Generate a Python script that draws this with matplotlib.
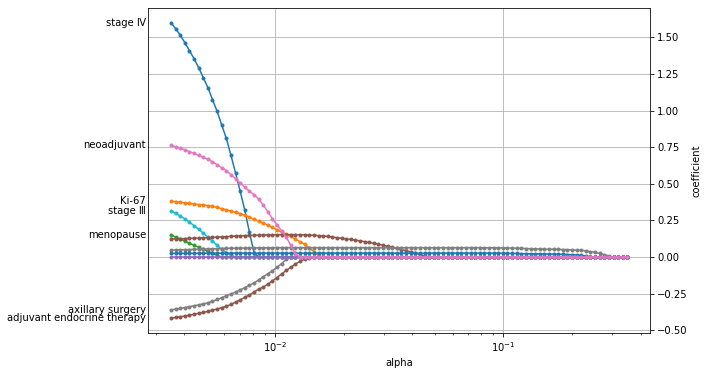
"""Lasso-type coefficient path: penalised Cox model, coefficient vs alpha."""
import numpy as np
import matplotlib.pyplot as plt

# alpha grid (as built by the penalised Cox fit): 100 log-spaced values
ALPHA_MAX = 0.35
ALPHA_MIN_RATIO = 0.01
N_ALPHAS = 100
alphas = ALPHA_MAX * ALPHA_MIN_RATIO ** (np.arange(N_ALPHAS)[::-1] / (N_ALPHAS - 1))

# coefficients, listed from the smallest alpha upward; a feature is exactly 0
# once it has left the model, so trailing zeros are left out
STAGE_IV = [1.600, 1.559, 1.515, 1.464, 1.409, 1.354, 1.293, 1.225, 1.157, 1.075,
            0.995, 0.902, 0.810, 0.695, 0.575, 0.450, 0.320, 0.172, 0.030]
NEOADJUVANT = [0.763, 0.753, 0.743, 0.732, 0.720, 0.707, 0.694, 0.680, 0.668, 0.650,
               0.630, 0.610, 0.590, 0.563, 0.535, 0.505, 0.477, 0.450, 0.425, 0.395,
               0.355, 0.310, 0.262, 0.220, 0.178, 0.135, 0.080, 0.020]
KI67 = [0.382, 0.378, 0.374, 0.370, 0.366, 0.362, 0.358, 0.355, 0.351, 0.345,
        0.338, 0.331, 0.322, 0.313, 0.304, 0.296, 0.285, 0.272, 0.258, 0.246,
        0.232, 0.217, 0.202, 0.186, 0.170, 0.155, 0.140, 0.122, 0.104, 0.087,
        0.062, 0.037, 0.008]
STAGE_III = [0.314, 0.297, 0.280, 0.260, 0.238, 0.214, 0.189, 0.163, 0.135, 0.108,
             0.080, 0.052, 0.030, 0.012]
MENOPAUSE = [0.150, 0.136, 0.122, 0.108, 0.094, 0.080, 0.066, 0.052, 0.038, 0.024,
             0.010]
AXILLARY = [-0.361, -0.356, -0.351, -0.345, -0.339, -0.333, -0.327, -0.320, -0.313, -0.302,
            -0.290, -0.278, -0.265, -0.252, -0.240, -0.225, -0.209, -0.193, -0.177, -0.157,
            -0.135, -0.115, -0.094, -0.070, -0.045, -0.015]
ENDOCRINE = [-0.418, -0.413, -0.408, -0.403, -0.397, -0.391, -0.385, -0.378, -0.371, -0.363,
             -0.355, -0.346, -0.336, -0.324, -0.308, -0.293, -0.276, -0.259, -0.240, -0.220,
             -0.205, -0.186, -0.163, -0.140, -0.116, -0.092, -0.070, -0.048, -0.030, -0.015,
             -0.008]
NODES = [0.123, 0.124, 0.125, 0.126, 0.127, 0.128, 0.129, 0.131, 0.133, 0.134,
         0.136, 0.138, 0.139, 0.141, 0.143, 0.145, 0.146, 0.147, 0.148, 0.149,
         0.150, 0.151, 0.152, 0.152, 0.153, 0.153, 0.153, 0.153, 0.152, 0.151,
         0.150, 0.148, 0.146, 0.143, 0.140, 0.136, 0.132, 0.128, 0.124, 0.120,
         0.115, 0.110, 0.105, 0.099, 0.093, 0.087, 0.080, 0.073, 0.066, 0.059,
         0.051, 0.043, 0.035, 0.026, 0.017, 0.007]
GRADE = [0.047, 0.048, 0.049, 0.050, 0.051, 0.052, 0.053, 0.054, 0.055, 0.056,
         0.057, 0.058, 0.059, 0.060, 0.060, 0.061, 0.061, 0.062, 0.062, 0.063,
         0.063, 0.063, 0.063, 0.064, 0.064, 0.064, 0.064, 0.064, 0.064, 0.064,
         0.064, 0.064, 0.064, 0.064, 0.064, 0.064, 0.064, 0.064, 0.064, 0.064,
         0.064, 0.064, 0.064, 0.064, 0.064, 0.064, 0.064, 0.064, 0.064, 0.064,
         0.064, 0.064, 0.064, 0.064, 0.064, 0.064, 0.064, 0.064, 0.064, 0.064,
         0.064, 0.064, 0.064, 0.064, 0.064, 0.064, 0.064, 0.064, 0.063, 0.063,
         0.063, 0.063, 0.062, 0.062, 0.061, 0.060, 0.059, 0.058, 0.057, 0.056,
         0.055, 0.054, 0.053, 0.053, 0.052, 0.051, 0.050, 0.048, 0.046, 0.046,
         0.042, 0.037, 0.031, 0.024, 0.016, 0.007]
AGE = [0.025, 0.025, 0.025, 0.025, 0.025, 0.025, 0.026, 0.026, 0.026, 0.026,
       0.026, 0.026, 0.026, 0.026, 0.026, 0.026, 0.026, 0.026, 0.026, 0.026,
       0.026, 0.026, 0.026, 0.026, 0.026, 0.026, 0.026, 0.026, 0.026, 0.026,
       0.026, 0.026, 0.026, 0.026, 0.026, 0.026, 0.026, 0.026, 0.026, 0.026,
       0.026, 0.026, 0.026, 0.026, 0.026, 0.026, 0.026, 0.026, 0.026, 0.026,
       0.026, 0.026, 0.026, 0.026, 0.026, 0.026, 0.026, 0.026, 0.026, 0.026,
       0.026, 0.026, 0.026, 0.026, 0.026, 0.026, 0.026, 0.026, 0.026, 0.026,
       0.026, 0.026, 0.025, 0.025, 0.024, 0.024, 0.023, 0.023, 0.022, 0.022,
       0.021, 0.021, 0.020, 0.020, 0.019, 0.018, 0.017, 0.016, 0.014, 0.011,
       0.007, 0.002]
HER2 = []

FEATURES = ["stage Ⅳ", "Ki-67", "menopause", "adjuvant endocrine therapy",
            "axillary surgery", "stage Ⅲ", "positive nodes", "grade", "age",
            "HER2", "neoadjuvant"]
VALUES = [STAGE_IV, KI67, MENOPAUSE, ENDOCRINE, AXILLARY, STAGE_III, NODES,
          GRADE, AGE, HER2, NEOADJUVANT]
COLORS = ["#1f77b4", "#ff7f0e", "#2ca02c", "#8c564b", "#7f7f7f", "#17becf",
          "#8c564b", "#7f7f7f", "#1f77b4", "#9467bd", "#e377c2"]
N_HIGHLIGHT = 7

coefs = np.zeros((len(FEATURES), N_ALPHAS))
for k, v in enumerate(VALUES):
    coefs[k, :len(v)] = v

fig, ax = plt.subplots(figsize=(709 / 72, 375 / 72), dpi=72)
fig.subplots_adjust(left=0.209, right=0.917, top=0.979, bottom=0.112)

for row, col in zip(coefs, COLORS):
    ax.semilogx(alphas, row, ".-", color=col)

# name the largest coefficients at the smallest alpha, left of the path
alpha_min = alphas.min()
top = np.argsort(np.abs(coefs[:, 0]))[-N_HIGHLIGHT:]
for k in top:
    ax.annotate(FEATURES[k], (alpha_min, coefs[k, 0]), xytext=(-25, 0),
                textcoords="offset points", ha="right", va="center")

ax.yaxis.set_label_position("right")
ax.yaxis.tick_right()
ax.grid(True)
ax.set_xlabel("alpha")
ax.set_ylabel("coefficient")

fig.savefig("out.png", dpi=72)
